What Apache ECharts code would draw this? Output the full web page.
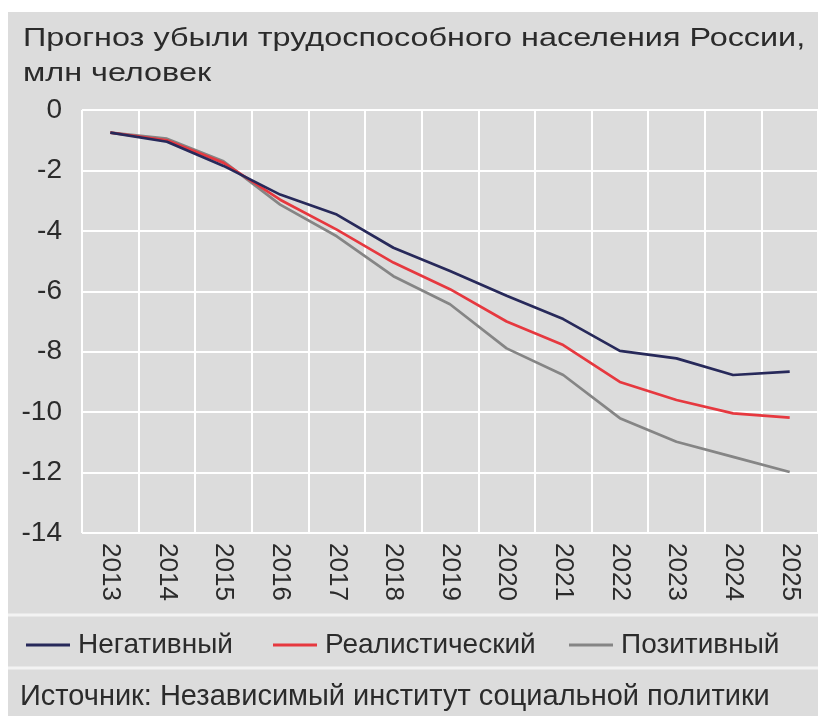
<!DOCTYPE html>
<html>
<head>
<meta charset="utf-8">
<script src="https://cdn.jsdelivr.net/npm/echarts@6.0.0/dist/echarts.min.js"></script>
<style>
  html, body { margin: 0; padding: 0; background: #ffffff; width: 818px; height: 716px; overflow: hidden; }
  #bg { position: absolute; left: 8px; top: 12px; width: 810px; height: 704px; background: #dcdcdc; }
  #chart { position: absolute; left: 0; top: 0; width: 818px; height: 716px; }
</style>
</head>
<body>
<div id="bg"></div>
<div id="chart"></div>
<script>
// ---- data ----
const years = ['2013','2014','2015','2016','2017','2018','2019','2020','2021','2022','2023','2024','2025'];
const negative  = [-0.75, -1.05, -1.85, -2.80, -3.46, -4.56, -5.33, -6.15, -6.92, -7.97, -8.22, -8.77, -8.66];
const realistic = [-0.75, -1.00, -1.75, -2.97, -3.96, -5.05, -5.93, -7.00, -7.78, -9.00, -9.60, -10.04, -10.18];
const positive  = [-0.75, -0.95, -1.70, -3.13, -4.18, -5.50, -6.43, -7.89, -8.77, -10.20, -10.98, -11.48, -11.98];
const seriesNames = ['Негативный', 'Реалистический', 'Позитивный'];
const yTicks = { min: -14, max: 0, interval: 2 };
const titleText = 'Прогноз убыли трудоспособного населения России,\nмлн человек';
const sourceText = 'Источник: Независимый институт социальной политики';

// ---- styles ----
const FONT = "'Liberation Sans', Arial, sans-serif";
const TXT = '#2b2b2b';
const colors = ['#27295a', '#e6383f', '#858585'];

const chart = echarts.init(document.getElementById('chart'), null, { devicePixelRatio: 1 });

function legendAt(name, left) {
  return {
    data: [name], left: left, top: 645 - 15, padding: 0,
    icon: 'rect', itemWidth: 44, itemHeight: 3, itemGap: 0,
    textStyle: { fontFamily: FONT, fontSize: 28, color: TXT, lineHeight: 30, padding: [0, 0, 0, 3] }
  };
}

chart.setOption({
  animation: false,
  backgroundColor: 'transparent',
  title: [
    { text: sourceText, left: 20, top: 682, padding: 0,
      textStyle: { fontFamily: FONT, fontSize: 29, fontWeight: 'normal', color: TXT, lineHeight: 30 } }
  ],
  legend: [legendAt(seriesNames[0], 26), legendAt(seriesNames[1], 273), legendAt(seriesNames[2], 569)],
  graphic: [
    { type: 'text', x: 23, y: 22, scaleX: 1.295, originX: 0, originY: 0, silent: true,
      style: { text: titleText, fontFamily: FONT, fontSize: 25, fill: TXT, lineHeight: 35 } },
    { type: 'rect', shape: { x: 8, y: 613.5, width: 810, height: 3 }, style: { fill: '#f3f3f3' }, silent: true },
    { type: 'rect', shape: { x: 8, y: 666.5, width: 810, height: 3 }, style: { fill: '#f3f3f3' }, silent: true }
  ],
  grid: { left: 82, right: -2, top: 110, bottom: 183 },
  xAxis: {
    type: 'category', data: years, boundaryGap: true,
    axisLine: { show: false }, axisTick: { show: false },
    splitLine: { show: true, interval: 0, lineStyle: { color: '#ffffff', width: 2 } },
    axisLabel: { rotate: -90, margin: 10, interval: 0, fontFamily: FONT, fontSize: 26, color: TXT }
  },
  yAxis: {
    type: 'value', min: yTicks.min, max: yTicks.max, interval: yTicks.interval,
    axisLine: { show: false }, axisTick: { show: false },
    splitLine: { show: true, lineStyle: { color: '#ffffff', width: 2 } },
    axisLabel: { margin: 20, fontFamily: FONT, fontSize: 28, color: TXT }
  },
  series: [
    { name: seriesNames[2], type: 'line', data: positive, symbol: 'none', z: 3,
      lineStyle: { color: colors[2], width: 2.7 }, itemStyle: { color: colors[2] } },
    { name: seriesNames[1], type: 'line', data: realistic, symbol: 'none', z: 4,
      lineStyle: { color: colors[1], width: 2.7 }, itemStyle: { color: colors[1] } },
    { name: seriesNames[0], type: 'line', data: negative, symbol: 'none', z: 5,
      lineStyle: { color: colors[0], width: 2.7 }, itemStyle: { color: colors[0] } }
  ]
});
</script>
</body>
</html>
